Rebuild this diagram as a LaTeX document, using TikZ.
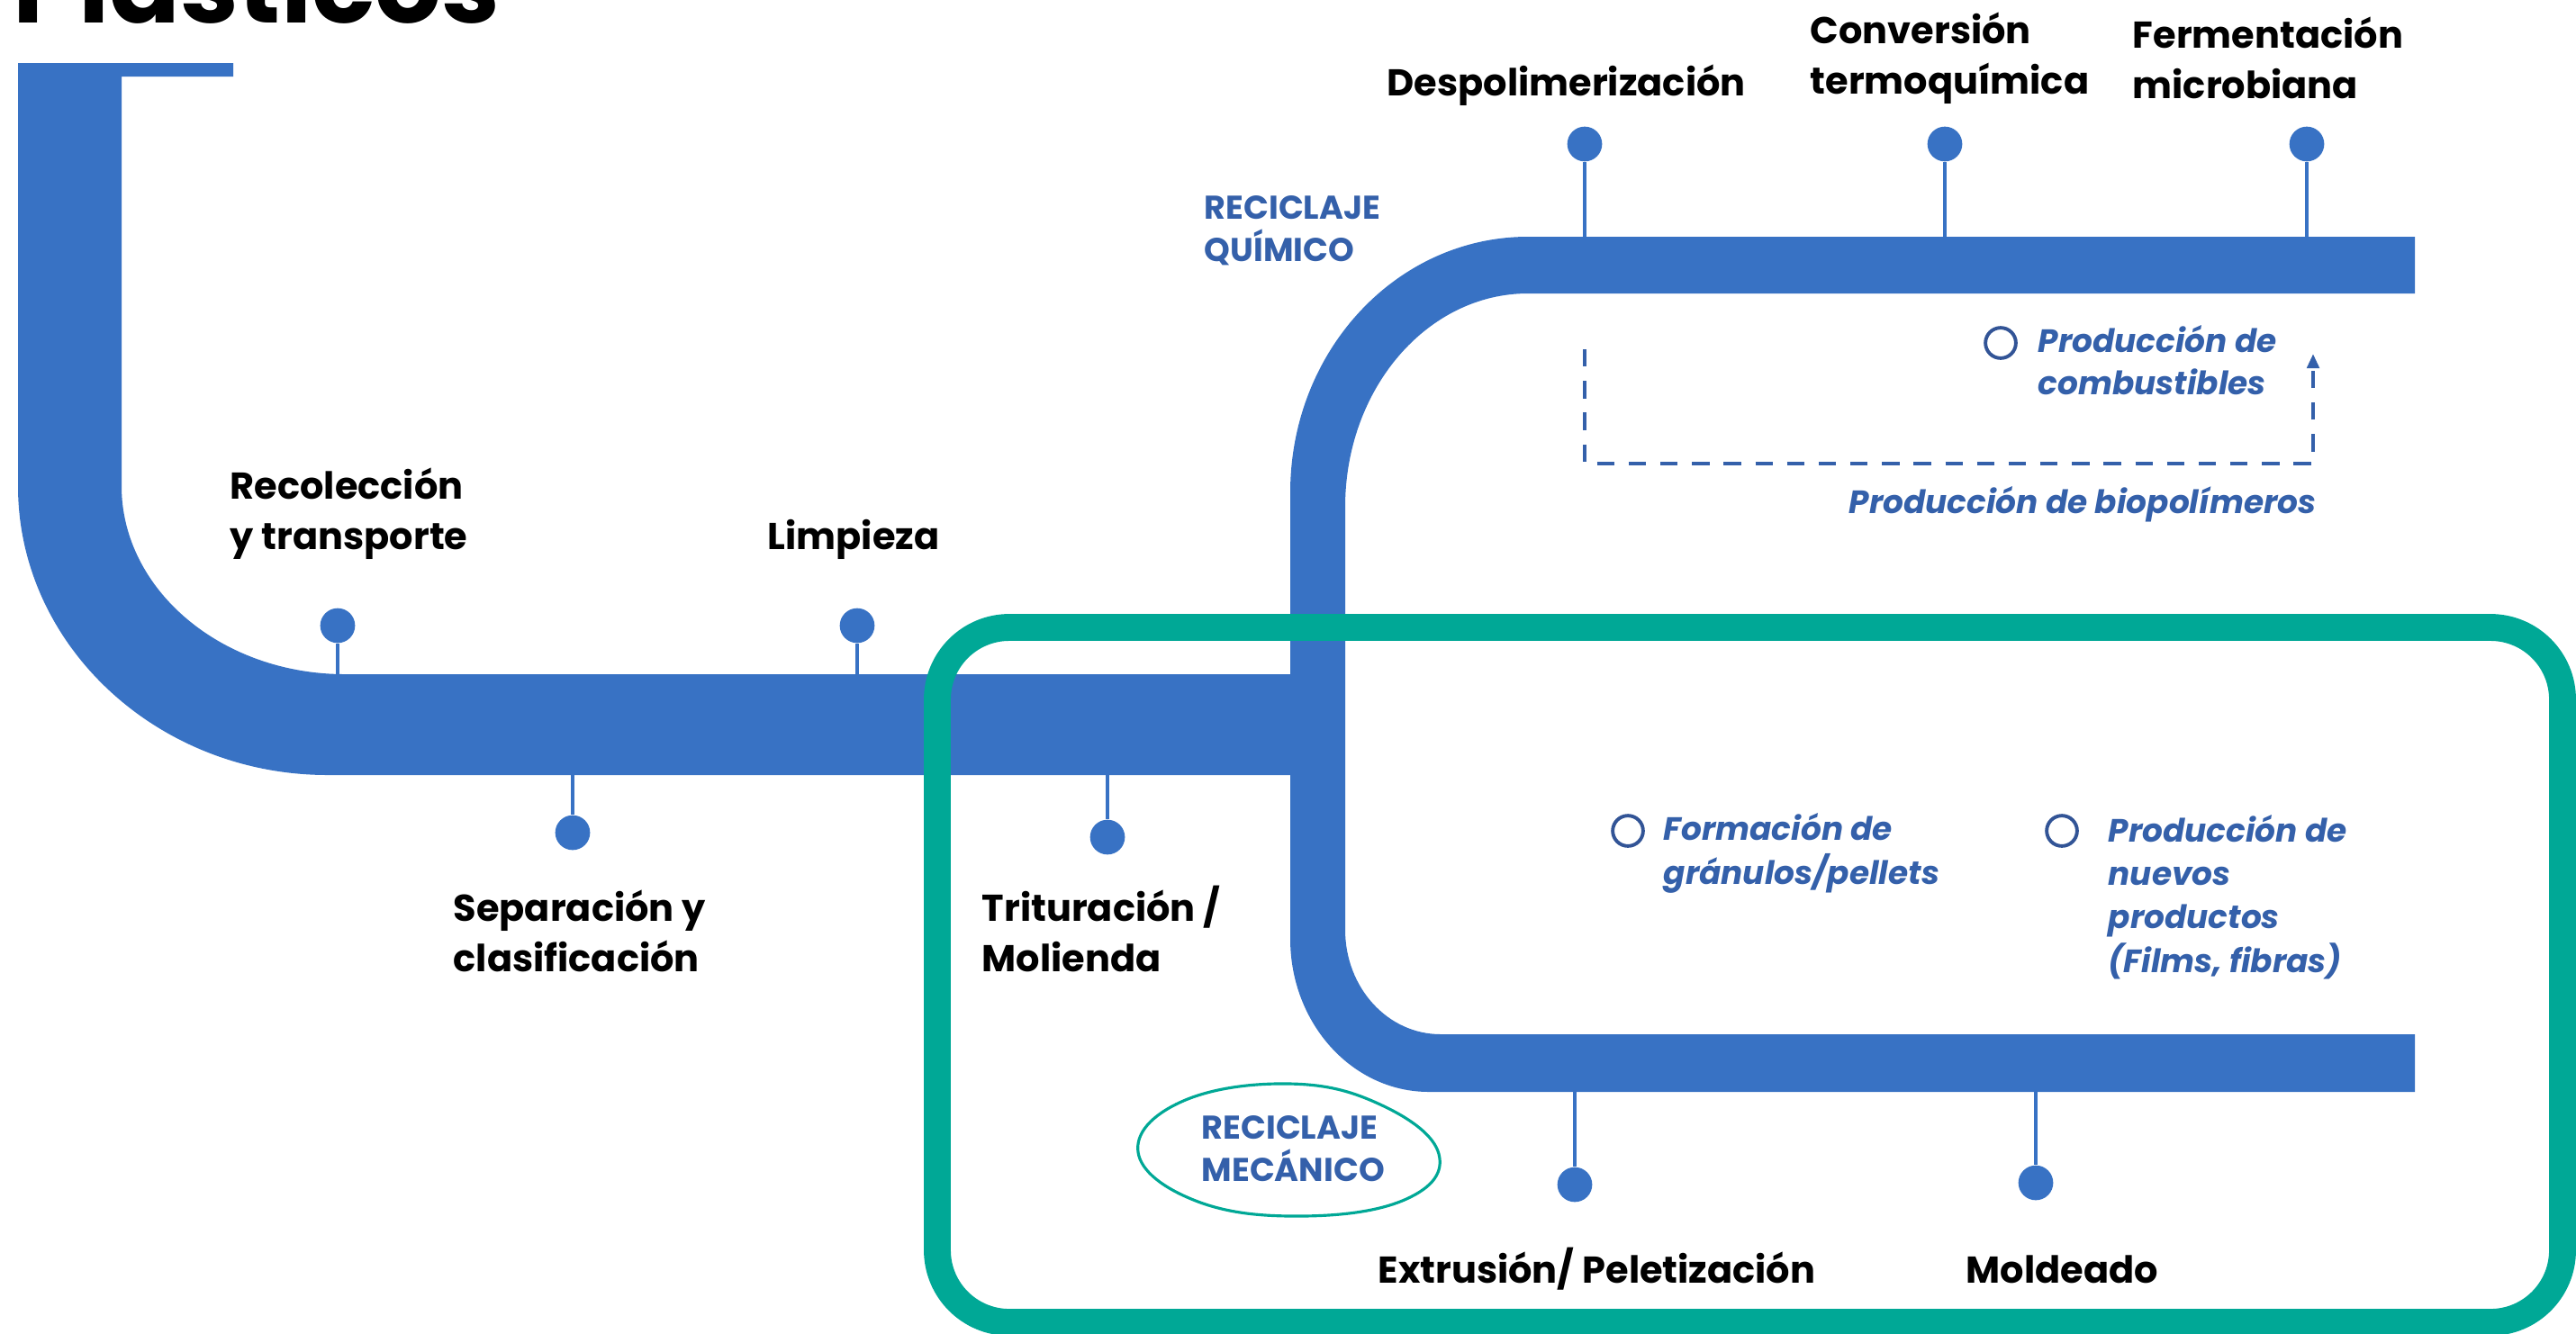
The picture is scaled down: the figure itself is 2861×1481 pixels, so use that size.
\documentclass[tikz,border=0pt]{standalone}
\usepackage{fontspec}
\setmainfont{Poppins}
\usetikzlibrary{arrows.meta}
\definecolor{pipe}{RGB}{56,114,196}
\definecolor{tealc}{RGB}{0,168,150}
\definecolor{tblue}{RGB}{52,96,170}
\definecolor{cblue}{RGB}{50,84,150}
\begin{document}
\begin{tikzpicture}[x=0.01cm,y=-0.01cm,
  lab/.style={font=\fontsize{11.8}{15.9}\selectfont\bfseries, text=black, inner sep=0pt, align=left, anchor=base west},
  capl/.style={font=\fontsize{10.4}{13.1}\selectfont\bfseries, text=tblue, inner sep=0pt, align=left, anchor=base west},
  ital/.style={font=\fontsize{10.2}{13.7}\selectfont\bfseries\itshape, text=tblue, inner sep=0pt, align=left, anchor=base west},
  pin/.style={circle, fill=pipe, draw=none, minimum size=11pt, inner sep=0pt},
  hollow/.style={circle, draw=cblue, line width=1.1pt, minimum size=9.6pt, inner sep=0pt},
  stem/.style={draw=pipe, line width=1.1pt},
  dashln/.style={draw=tblue, line width=1.2pt, dash pattern=on 5.5pt off 4.5pt}
]
\useasboundingbox (0,0) rectangle (2861,1481);
\clip (0,0) rectangle (2861,1481);
\fill[white] (0,0) rectangle (2861,1481);

% title (cut by the top edge)
\node[anchor=base west, inner sep=0pt, font=\fontsize{33}{33}\selectfont\bfseries] (title) at (14,25) {Plásticos};

% left pipe
\fill[pipe] (20,70) -- (259,70) -- (259,85) -- (135,85) -- (135,540)
  .. controls (135,655) and (246,749) .. (383,749) -- (1440,749) -- (1440,861) -- (364,861)
  .. controls (175,861) and (20,717) .. (20,540) -- cycle;

% right pipe
\fill[pipe] (2682,263) -- (1697,263)
  .. controls (1551,263) and (1433,390) .. (1433,547) -- (1433,1043)
  .. controls (1433,1137) and (1502,1213) .. (1587,1213) -- (2682,1213) -- (2682,1149) -- (1600,1149)
  .. controls (1541,1149) and (1494,1097) .. (1494,1033) -- (1494,563)
  .. controls (1494,432) and (1585,326) .. (1697,326) -- (2682,326) -- cycle;

% pins
\node[pin] (p1) at (375,695) {};  \coordinate (p1b) at (375,749);
\node[pin] (p2) at (952,695) {};  \coordinate (p2b) at (952,749);
\node[pin] (p3) at (636,925) {};  \coordinate (p3b) at (636,861);
\node[pin] (p4) at (1230,930) {}; \coordinate (p4b) at (1230,861);
\node[pin] (p5) at (1760,160) {}; \coordinate (p5b) at (1760,263);
\node[pin] (p6) at (2160,160) {}; \coordinate (p6b) at (2160,263);
\node[pin] (p7) at (2562,160) {}; \coordinate (p7b) at (2562,263);
\node[pin] (p8) at (1749,1316) {}; \coordinate (p8b) at (1749,1213);
\node[pin] (p9) at (2261,1314) {}; \coordinate (p9b) at (2261,1213);
\foreach \p in {p1,p2,p3,p4,p5,p6,p7,p8,p9} {\draw[stem] (\p) -- (\p b);}

% dashed loop
\coordinate (da) at (1760,388);
\coordinate (db) at (1760,515);
\coordinate (dc) at (2569,515);
\coordinate (dd) at (2569,393);
\draw[dashln, -{Triangle[length=4.6pt,width=3.8pt]}] (da) -- (db) -- (dc) -- (dd);

% teal frame
\draw[tealc, line width=8.5pt, rounded corners=0.8cm] (1041,697) rectangle (2846,1469);
% hand drawn ellipse
\draw[tealc, line width=0.9pt] plot[smooth cycle, tension=0.7] coordinates
  {(1432,1204) (1535,1228) (1598,1282) (1562,1332) (1446,1351) (1328,1334) (1264,1280) (1312,1224)};

% black labels (anchor = baseline of last line)
\node[lab] (t1) at (255,610) {Recolección\\y transporte};
\node[lab] (t2) at (852,610) {Limpieza};
\node[lab] (t3) at (503,1079) {Separación y\\clasificación};
\node[lab] (t4) at (1090,1079) {Trituración /\\Molienda};
\node[lab] (t5) at (1540,106) {Despolimerización};
\node[lab] (t6) at (2010,104) {Conversión\\termoquímica};
\node[lab] (t7) at (2368,109) {Fermentación\\microbiana};
\node[lab] (t8) at (1530,1425) {Extrusión/ Peletización};
\node[lab] (t9) at (2183,1425) {Moldeado};

% blue caps
\node[capl] (q) at (1337,290) {RECICLAJE\\QUÍMICO};
\node[capl] (m) at (1334,1312) {RECICLAJE\\MECÁNICO};

% italic outcomes
\node[hollow] (c1) at (2222,381) {};
\node[ital, font=\fontsize{10.2}{13.1}\selectfont\bfseries\itshape] (o1) at (2263,438) {Producción de\\combustibles};
\node[ital, anchor=base east] (o2) at (2573,570) {Producción de biopolímeros};
\node[hollow] (c2) at (1808,923) {};
\node[ital] (o3) at (1847,982) {Formación de\\gránulos/pellets};
\node[hollow] (c3) at (2290,923) {};
\node[ital] (o4) at (2341,1080) {Producción de\\nuevos\\productos\\(Films, fibras)};
\end{tikzpicture}
\end{document}
